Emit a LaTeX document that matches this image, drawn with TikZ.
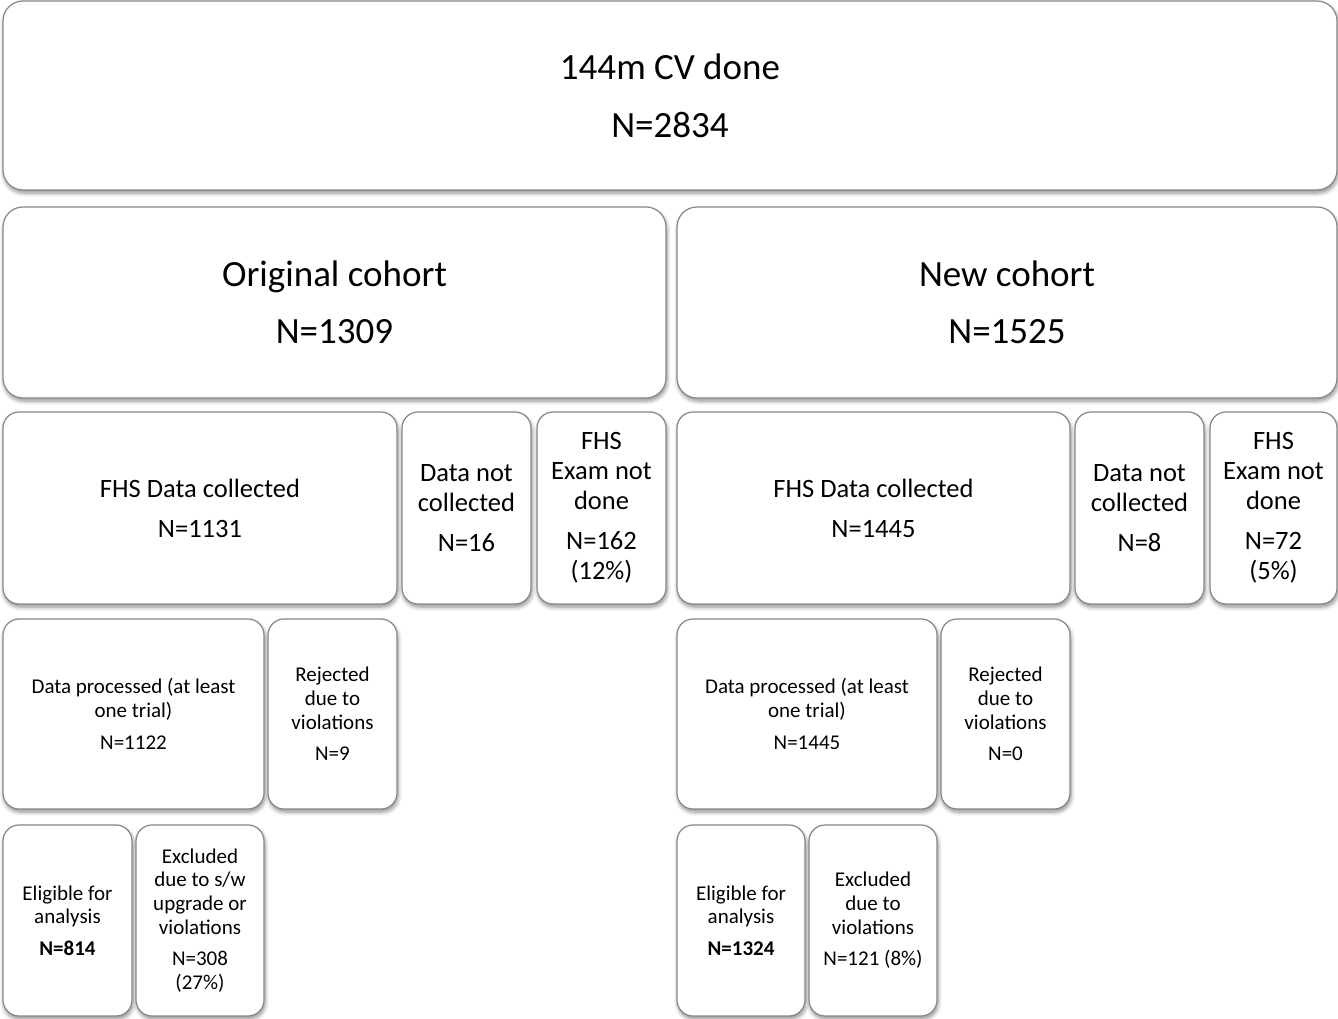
\documentclass[tikz,border=0pt]{standalone}
\usepackage{fontspec}
\setmainfont{Carlito}
\usetikzlibrary{shadows.blur}
\definecolor{boxline}{RGB}{135,135,135}
\tikzset{
  box/.style={draw=boxline, line width=1.2pt, fill=white, inner sep=0pt, align=center,
    text=black, rounded corners=16pt,
    blur shadow={shadow xshift=1pt, shadow yshift=-3pt, shadow blur radius=4pt, shadow blur steps=6, shadow opacity=45}},
  bigbox/.style={box, rounded corners=20pt, font=\fontsize{37}{44}\selectfont},
  midbox/.style={box, font=\fontsize{26.5}{30}\selectfont},
  smallbox/.style={box, font=\fontsize{21}{23.7}\selectfont}
}
\begin{document}
\begin{tikzpicture}[x=1pt,y=-1pt]
\useasboundingbox (0,0) rectangle (1338,1019);
% row 1
\node[bigbox, minimum width=1334, minimum height=189] (top) at (670,95.5) {144m CV done\\[14pt]N=2834};
% row 2
\node[bigbox, minimum width=663, minimum height=191] (orig) at (334.5,302.5) {Original cohort\\[13pt]N=1309};
\node[bigbox, minimum width=660, minimum height=191] (new) at (1007,302.5) {New cohort\\[13pt]N=1525};
% row 3
\node[midbox, minimum width=394, minimum height=192] (fhsA) at (200,508) {FHS Data collected\\[10pt]N=1131};
\node[midbox, minimum width=129, minimum height=192] (dncA) at (466.5,508) {Data not\\collected\\[10pt]N=16};
\node[midbox, minimum width=129, minimum height=192] (fheA) at (601.5,508) {FHS\\Exam not\\done\\[10pt]N=162\\(12\%)};
\node[midbox, minimum width=393, minimum height=192] (fhsB) at (873.5,508) {FHS Data collected\\[10pt]N=1445};
\node[midbox, minimum width=129, minimum height=192] (dncB) at (1139.5,508) {Data not\\collected\\[10pt]N=8};
\node[midbox, minimum width=127, minimum height=192] (fheB) at (1273.5,508) {FHS\\Exam not\\done\\[10pt]N=72\\(5\%)};
% row 4
\node[smallbox, minimum width=261, minimum height=190] (dpA) at (133.5,714) {Data processed (at least\\one trial)\\[8pt]N=1122};
\node[smallbox, minimum width=129, minimum height=190] (rejA) at (332.5,714) {Rejected\\due to\\violations\\[8pt]N=9};
\node[smallbox, minimum width=260, minimum height=190] (dpB) at (807,714) {Data processed (at least\\one trial)\\[8pt]N=1445};
\node[smallbox, minimum width=129, minimum height=190] (rejB) at (1005.5,714) {Rejected\\due to\\violations\\[8pt]N=0};
% row 5
\node[smallbox, minimum width=129, minimum height=191] (elA) at (67.5,920.5) {Eligible for\\analysis\\[8pt]\textbf{N=814}};
\node[smallbox, minimum width=128, minimum height=191] (exA) at (200,920.5) {Excluded\\due to s/w\\upgrade or\\violations\\[8pt]N=308\\(27\%)};
\node[smallbox, minimum width=128, minimum height=191] (elB) at (741,920.5) {Eligible for\\analysis\\[8pt]\textbf{N=1324}};
\node[smallbox, minimum width=128, minimum height=191] (exB) at (873,920.5) {Excluded\\due to\\violations\\[8pt]N=121 (8\%)};
\end{tikzpicture}
\end{document}
